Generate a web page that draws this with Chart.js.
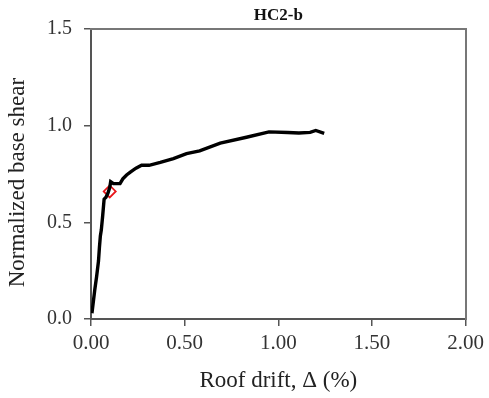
<!DOCTYPE html>
<html>
<head>
<meta charset="utf-8">
<script src="https://cdn.jsdelivr.net/npm/chart.js@4/dist/chart.umd.min.js"></script>
<style>
  html, body { margin: 0; padding: 0; background: #fff; }
  #wrap { width: 489px; height: 398px; }
</style>
</head>
<body>
<div id="wrap"><canvas id="c"></canvas></div>
<script>
// HC2-b pushover curve: normalized base shear vs roof drift (%).
var DRIFT = [0.005, 0.01, 0.02, 0.03, 0.04, 0.045, 0.05, 0.055, 0.062, 0.07, 0.08, 0.09, 0.10,
  0.105, 0.12, 0.14, 0.155, 0.17, 0.19, 0.21, 0.24, 0.27, 0.31, 0.37, 0.44, 0.51, 0.58,
  0.69, 0.83, 0.95, 1.05, 1.11, 1.17, 1.20, 1.245];
var SHEAR = [0.03, 0.07, 0.15, 0.22, 0.30, 0.37, 0.43, 0.46, 0.53, 0.62, 0.63, 0.65, 0.68,
  0.71, 0.70, 0.70, 0.70, 0.725, 0.745, 0.76, 0.78, 0.795, 0.795, 0.81, 0.83, 0.855, 0.87,
  0.91, 0.94, 0.968, 0.965, 0.962, 0.965, 0.975, 0.96];
// red open diamond (yield point)
var YIELD_DRIFT = [0.10];
var YIELD_SHEAR = [0.66];

var X_TICKS = [0, 0.5, 1.0, 1.5, 2.0];
var Y_TICKS = [0, 0.5, 1.0, 1.5];

function pts(xs, ys) {
  return xs.map(function (x, i) { return { x: x, y: ys[i] }; });
}

var SERIF = "'Liberation Serif', 'Times New Roman', serif";
var AXIS = "#555";

// frame lines on top/right: empty axes with borders only.
// the top one also carries the panel title so it centres over the plot area.
function frameAxis(pos) {
  var top = pos === "top";
  return {
    type: "linear", position: pos, min: 0, max: top ? 2 : 1.5,
    ticks: { display: false },
    grid: { display: true, drawOnChartArea: false, drawTicks: false },
    border: { display: true, color: "#777", width: 2 },
    title: top ? { display: true, text: "HC2-b", color: "#111",
      font: { family: SERIF, size: 17, weight: "bold" }, padding: { top: 5, bottom: 0 } }
      : { display: false },
    afterFit: function (s) { if (top) s.height = 29; else s.width = 0; }
  };
}

new Chart(document.getElementById("c"), {
  type: "scatter",
  data: {
    datasets: [
      { data: pts(DRIFT, SHEAR), showLine: true, borderColor: "#000", backgroundColor: "#000",
        borderWidth: 3.4, pointRadius: 0, tension: 0 },
      { data: pts(YIELD_DRIFT, YIELD_SHEAR), pointStyle: "rectRot", pointRadius: 6,
        borderColor: "#e8161b", backgroundColor: "rgba(0,0,0,0)", pointBorderWidth: 1.8 }
    ]
  },
  options: {
    responsive: true, maintainAspectRatio: false, animation: false,
    layout: { padding: { left: 0, right: 22, top: 0, bottom: 0 } },
    plugins: {
      legend: { display: false },
      tooltip: { enabled: false },
      title: { display: false }
    },
    scales: {
      x: {
        type: "linear", min: 0, max: 2,
        afterBuildTicks: function (s) { s.ticks = X_TICKS.map(function (v) { return { value: v }; }); },
        ticks: { color: "#333", font: { family: SERIF, size: 21 }, padding: 5, maxRotation: 0,
          callback: function (v) { return Number(v).toFixed(2); } },
        grid: { drawOnChartArea: false, drawTicks: true, tickLength: 7, color: AXIS, lineWidth: 1.5 },
        border: { color: AXIS, width: 2 },
        title: { display: true, text: "Roof drift, \u0394 (%)", color: "#222",
          font: { family: SERIF, size: 23 }, padding: { top: 0, bottom: 3 } },
        afterFit: function (s) { s.height = 79; }
      },
      y: {
        type: "linear", min: 0, max: 1.5,
        afterBuildTicks: function (s) { s.ticks = Y_TICKS.map(function (v) { return { value: v }; }); },
        ticks: { color: "#333", font: { family: SERIF, size: 20 }, padding: 12,
          callback: function (v) { return Number(v).toFixed(1); } },
        grid: { drawOnChartArea: false, drawTicks: true, tickLength: 7, color: AXIS, lineWidth: 1.5 },
        border: { color: AXIS, width: 2 },
        title: { display: true, text: "Normalized base shear   ", color: "#222",
          font: { family: SERIF, size: 23 }, padding: { top: 4, bottom: 0 } },
        afterFit: function (s) { s.width = 91; }
      },
      x2: frameAxis("top"),
      y2: frameAxis("right")
    }
  }
});
</script>
</body>
</html>
